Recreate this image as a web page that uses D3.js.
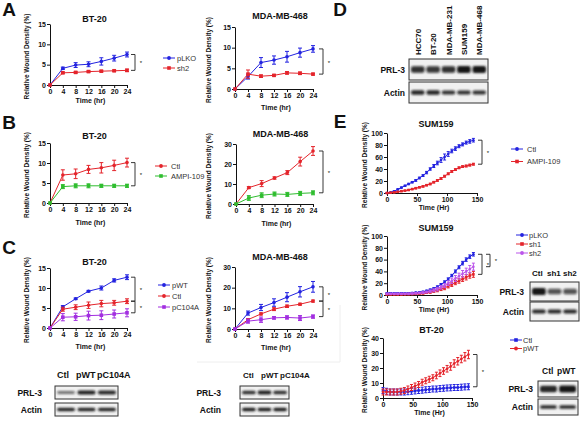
<!DOCTYPE html>
<html><head><meta charset="utf-8">
<script src="https://cdn.jsdelivr.net/npm/d3@7"></script>
<style>body{margin:0;background:#fff}svg{display:block;font-family:"Liberation Sans",Arial,sans-serif}</style>
</head><body><svg id="c" width="584" height="424"></svg>
<script>
// ---------------- DATA ----------------
const hoursABC = [0, 4, 8, 12, 16, 20, 24];
const ticksABC = [0, 4, 8, 12, 16, 20, 24];
// A BT-20
const aBT_pLKO = [0, 4.1, 4.9, 5.1, 5.8, 6.6, 7.5];
const aBT_pLKO_err = [0, 0.3, 0.6, 0.6, 0.9, 0.7, 0.6];
const aBT_sh2 = [0, 3.0, 3.1, 3.3, 3.4, 3.5, 3.6];
const aBT_sh2_err = [0, 0.2, 0.2, 0.2, 0.2, 0.2, 0.3];
// A MDA-MB-468
const aMDA_pLKO = [0, 3.0, 6.4, 7.0, 7.8, 8.8, 9.7];
const aMDA_pLKO_err = [0, 0.6, 1.2, 1.0, 1.3, 1.1, 0.8];
const aMDA_sh2 = [0, 3.6, 3.1, 3.3, 3.9, 3.8, 3.6];
const aMDA_sh2_err = [0, 1.0, 0.3, 0.2, 0.3, 0.3, 0.2];
// B BT-20
const bBT_Ctl = [0, 7.0, 7.3, 8.4, 8.8, 9.4, 10.1];
const bBT_Ctl_err = [0, 1.3, 1.2, 1.0, 1.3, 1.3, 1.1];
const bBT_AMPI = [0, 4.1, 4.3, 4.3, 4.3, 4.3, 4.3];
const bBT_AMPI_err = [0, 0.5, 0.5, 0.5, 0.4, 0.4, 0.4];
// B MDA-MB-468
const bMDA_Ctl = [0, 8.2, 10.2, 13.0, 15.7, 21.2, 26.5];
const bMDA_Ctl_err = [0, 0.5, 1.5, 0.6, 1.0, 2.2, 2.2];
const bMDA_AMPI = [0, 3.0, 4.4, 5.0, 4.8, 5.3, 5.6];
const bMDA_AMPI_err = [0, 1.2, 1.2, 1.0, 1.0, 1.0, 1.0];
// C BT-20
const cBT_pWT = [0, 5.3, 7.3, 9.2, 10.0, 11.9, 12.7];
const cBT_pWT_err = [0, 0.3, 0.2, 0.2, 0.5, 0.4, 0.6];
const cBT_Ctl = [0, 4.7, 5.2, 5.7, 6.1, 6.3, 6.7];
const cBT_Ctl_err = [0, 0.5, 0.6, 0.8, 0.8, 0.6, 0.6];
const cBT_pC104A = [0, 2.7, 2.8, 3.1, 3.2, 3.5, 3.8];
const cBT_pC104A_err = [0, 0.9, 0.9, 1.1, 1.1, 1.0, 1.0];
// C MDA-MB-468
const cMDA_pWT = [0, 7.7, 10.4, 12.8, 15.4, 18.0, 20.4];
const cMDA_pWT_err = [0, 1.0, 1.5, 1.8, 2.2, 2.5, 2.6];
const cMDA_Ctl = [0, 4.5, 7.3, 9.6, 11.0, 12.0, 13.5];
const cMDA_Ctl_err = [0, 0.5, 0.5, 0.7, 0.6, 0.5, 0.5];
const cMDA_pC104A = [0, 3.8, 4.5, 5.4, 5.6, 5.3, 6.0];
const cMDA_pC104A_err = [0, 1.0, 1.3, 0.6, 0.8, 1.2, 0.8];
// E time points (hr)
const hoursE = [0, 6, 12, 18, 24, 30, 36, 42, 48, 54, 60, 66, 72, 78, 84, 90, 96, 102, 108, 114, 120, 126, 132, 138, 144];
const ticksE = [0, 50, 100, 150];
// E top SUM159
const eTop_Ctl = [0, 1, 3, 6, 9, 12, 15, 18, 21, 25, 29, 34, 40, 45, 50, 55, 60, 65, 70, 74, 78, 81, 84, 86, 88];
const eTop_Ctl_err = [0.5, 0.5, 0.8, 1, 1, 1, 1.2, 1.2, 1.5, 1.5, 1.5, 2, 2, 2.5, 3, 4, 5, 4, 3, 3, 2.5, 2.5, 2.5, 3, 3];
const eTop_AMPI = [0, 0.5, 1, 2, 3, 4, 5, 6.5, 8, 9.5, 11, 13, 15, 18, 21, 24, 28, 32, 36, 39, 42, 44, 45, 46.5, 48];
const eTop_AMPI_err = [0.3, 0.3, 0.5, 0.5, 0.5, 0.6, 0.7, 0.8, 1, 1, 1, 1, 1.2, 1.2, 1.5, 1.5, 1.5, 1.5, 1.5, 1.5, 1.5, 1.5, 1.5, 1.5, 1.5];
// E middle SUM159
const eMid_pLKO = [3, 3, 3, 3, 3, 3, 3, 3.5, 4, 4.5, 5.5, 7, 9, 11, 14, 18, 22, 27, 33, 40, 47, 54, 60, 65, 69];
const eMid_pLKO_err = [1, 1, 1, 1, 1, 1, 1, 1, 1, 1, 1, 1.2, 1.2, 1.5, 1.5, 1.5, 2, 2, 2, 2.5, 2.5, 3, 3, 3, 3];
const eMid_sh1 = [1, 1, 1, 1, 1, 1.2, 1.4, 1.6, 2, 2.5, 3, 4, 5, 6.5, 8, 10, 12, 15, 18, 21, 24, 27, 30, 33, 35];
const eMid_sh1_err = [1, 1, 1, 1, 1, 1, 1, 1, 1.2, 1.2, 1.5, 1.5, 2, 2, 2.5, 2.5, 3, 3, 3.5, 3.5, 4, 4, 4.5, 4.5, 5];
const eMid_sh2 = [2, 2, 2, 2, 2, 2, 2.2, 2.5, 3, 3.5, 4, 5, 6.5, 8, 10, 13, 16, 20, 24, 28, 32, 36, 40, 44, 48];
const eMid_sh2_err = [1, 1, 1, 1, 1, 1, 1, 1, 1.2, 1.2, 1.5, 1.5, 2, 2.5, 3, 3, 3.5, 4, 4.5, 5, 5, 5.5, 5.5, 6, 6];
// E bottom BT-20
const eBot_Ctl = [5, 4.5, 4, 4, 4, 4, 4, 4.2, 4.5, 4.7, 5, 5.2, 5.5, 5.7, 6, 6, 6.3, 6.5, 6.7, 6.8, 7, 7, 7.2, 7.4, 7.5];
const eBot_Ctl_err = [2, 2, 2, 2, 2, 2, 2, 2, 2, 2, 2, 2, 2, 2, 2, 2, 2, 2, 2, 2, 2, 2, 2, 2, 2];
const eBot_pWT = [4, 4, 4, 4, 4, 4.5, 5, 6, 7, 8, 9, 10.5, 11.5, 12.5, 13.5, 15, 16.5, 18, 19.5, 21, 23, 24.5, 26, 27.5, 29];
const eBot_pWT_err = [2, 2, 2, 2, 2, 2, 2, 2, 2, 2, 2, 2, 2, 2, 2, 2.2, 2.2, 2.2, 2.2, 2.5, 2.5, 2.5, 2.5, 2.8, 2.8];
// Blots (band intensities 0..1)
const blotC1_lanes = ["Ctl", "pWT", "pC104A"];
const blotC1_PRL3 = [0.45, 0.95, 0.9];
const blotC1_Actin = [0.9, 0.9, 0.9];
const blotC2_lanes = ["Ctl", "pWT", "pC104A"];
const blotC2_PRL3 = [0.85, 0.95, 0.85];
const blotC2_Actin = [0.95, 0.95, 0.95];
const blotD_lanes = ["HCC70", "BT-20", "MDA-MB-231", "SUM159", "MDA-MB-468"];
const blotD_PRL3 = [0.85, 0.8, 0.85, 1.0, 1.0];
const blotD_Actin = [0.9, 0.9, 0.85, 0.85, 0.85];
const blotE2_lanes = ["Ctl", "sh1", "sh2"];
const blotE2_PRL3 = [1.0, 0.6, 0.6];
const blotE2_Actin = [0.9, 0.9, 0.9];
const blotE3_lanes = ["Ctl", "pWT"];
const blotE3_PRL3 = [0.9, 1.0];
const blotE3_Actin = [0.85, 0.85];

// ---------------- DRAWING ----------------
const BLUE = "#2323e0", RED = "#e4242b", GREEN = "#2fbd2f", PURPLE = "#a22ee0", PURPLE2 = "#bb55ea";
const svg = d3.select("#c");
const defs = svg.append("defs");
defs.append("filter").attr("id", "blur").attr("x", "-50%").attr("y", "-100%").attr("width", "200%").attr("height", "300%")
  .append("feGaussianBlur").attr("stdDeviation", 0.8);

function txt(x, y, s, o = {}) {
  const t = svg.append("text").attr("x", x).attr("y", y).text(s)
    .attr("font-size", o.size || 8).attr("font-weight", o.weight || "bold")
    .attr("fill", o.fill || "#111").attr("text-anchor", o.anchor || "middle");
  if (o.rotate) t.attr("transform", `rotate(${o.rotate},${x},${y})`);
  return t;
}

function styleAxis(g) {
  g.select(".domain").attr("stroke", "#111").attr("stroke-width", 1);
  g.selectAll(".tick line").attr("stroke", "#111");
  g.selectAll(".tick text").attr("font-size", 7).attr("font-weight", "bold").attr("fill", "#111")
    .attr("font-family", '"Liberation Sans",Arial,sans-serif');
}

function lineChart(c) {
  const x = d3.scaleLinear().domain(c.xDomain).range([c.left, c.right]);
  const y = d3.scaleLinear().domain(c.yDomain).range([c.bottom, c.top]);
  const g = svg.append("g");
  g.append("g").attr("transform", `translate(0,${c.bottom})`)
    .call(d3.axisBottom(x).tickValues(c.xTicks).tickSize(3).tickSizeOuter(0).tickPadding(1).tickFormat(d3.format("d"))).call(styleAxis);
  g.append("g").attr("transform", `translate(${c.left},0)`)
    .call(d3.axisLeft(y).tickValues(c.yTicks).tickSize(3).tickSizeOuter(0).tickPadding(1).tickFormat(d3.format("d"))).call(styleAxis);
  const line = d3.line().x(d => x(d[0])).y(d => y(d[1]));
  const r = c.r || 1.8, cap = c.cap || 2;
  c.series.forEach(s => {
    const pts = c.xs.map((t, i) => [t, s.v[i], s.e[i]]);
    const sg = g.append("g");
    sg.append("path").attr("d", line(pts)).attr("fill", "none").attr("stroke", s.color).attr("stroke-width", 1);
    pts.forEach(p => {
      if (p[2] > 0) {
        const y1 = y(p[1] + p[2]), y2 = y(p[1] - p[2]);
        sg.append("line").attr("x1", x(p[0])).attr("x2", x(p[0])).attr("y1", y1).attr("y2", y2).attr("stroke", s.color).attr("stroke-width", 1);
        [y1, y2].forEach(yy => sg.append("line").attr("x1", x(p[0]) - cap).attr("x2", x(p[0]) + cap).attr("y1", yy).attr("y2", yy).attr("stroke", s.color).attr("stroke-width", 1));
      }
      if (s.square) sg.append("rect").attr("x", x(p[0]) - r).attr("y", y(p[1]) - r).attr("width", 2 * r).attr("height", 2 * r).attr("fill", s.color);
      else sg.append("circle").attr("cx", x(p[0])).attr("cy", y(p[1])).attr("r", r).attr("fill", s.color);
    });
  });
  txt((c.left + c.right) / 2 + (c.titleDx || 6), c.titleY, c.title, { size: 9 });
  txt((c.left + c.right) / 2 + 2, c.xLabelY, c.xLabel, { size: 7 });
  txt(c.yLabelX, (c.top + c.bottom) / 2 + 2, "Relative Wound Density (%)", { size: 6.5, rotate: -90 });
  (c.brackets || []).forEach(b => {
    const last = c.xs.length - 1;
    const ya = y(c.series[b.a].v[last]), yb = y(c.series[b.b].v[last]);
    const bx = c.right + b.dx;
    svg.append("path").attr("d", `M${bx - 4},${ya}H${bx}V${yb}H${bx - 4}`).attr("fill", "none").attr("stroke", "#222").attr("stroke-width", 0.9);
    txt(bx + 6, (ya + yb) / 2 + 3, "*", { size: 6, weight: "normal" });
  });
  return { x, y };
}

function legend(items, x, y0, dy, tx) {
  items.forEach((it, i) => {
    const yy = y0 + i * dy;
    svg.append("line").attr("x1", x).attr("x2", x + 12).attr("y1", yy).attr("y2", yy).attr("stroke", it.color).attr("stroke-width", 1);
    if (it.square) svg.append("rect").attr("x", x + 4.2).attr("y", yy - 1.8).attr("width", 3.6).attr("height", 3.6).attr("fill", it.color);
    else svg.append("circle").attr("cx", x + 6).attr("cy", yy).attr("r", 1.9).attr("fill", it.color);
    txt(tx, yy + 2.6, it.label, { size: 7.5, weight: "normal", anchor: "start", fill: "#333" });
  });
}

function blotRow(x0, x1, yTop, h, vals, bandH, dark) {
  svg.append("rect").attr("x", x0).attr("y", yTop).attr("width", x1 - x0).attr("height", h)
    .attr("fill", "#f1f1f1").attr("stroke", "#333").attr("stroke-width", 1);
  const lane = d3.scaleBand().domain(d3.range(vals.length)).range([x0 + 2, x1 - 2]).paddingInner(0.12);
  vals.forEach((v, i) => {
    svg.append("rect").attr("x", lane(i)).attr("width", lane.bandwidth())
      .attr("y", yTop + h / 2 - bandH * (0.55 + 0.45 * v) / 2).attr("height", bandH * (0.55 + 0.45 * v))
      .attr("rx", 2).attr("fill", dark || "#151515").attr("fill-opacity", 0.25 + 0.75 * v).attr("filter", "url(#blur)");
  });
  return lane;
}

// Panel letters
txt(9, 16, "A", { size: 19 });
txt(9, 129, "B", { size: 19 });
txt(9, 254, "C", { size: 19 });
txt(340, 16, "D", { size: 19 });
txt(340, 128, "E", { size: 19 });

const base = { xs: hoursABC, xDomain: [0, 24], xTicks: ticksABC, xLabel: "Time (hr)" };
// A
lineChart(Object.assign({}, base, { left: 50, right: 127, top: 24, bottom: 85, yDomain: [0, 15], yTicks: [0, 5, 10, 15],
  title: "BT-20", titleY: 22, xLabelY: 103, yLabelX: 29,
  series: [{ v: aBT_pLKO, e: aBT_pLKO_err, color: BLUE }, { v: aBT_sh2, e: aBT_sh2_err, color: RED, square: true }],
  brackets: [{ a: 0, b: 1, dx: 8 }] }));
lineChart(Object.assign({}, base, { left: 235, right: 313, top: 27, bottom: 89, yDomain: [0, 15], yTicks: [0, 5, 10, 15],
  title: "MDA-MB-468", titleY: 18.5, xLabelY: 110, yLabelX: 211,
  series: [{ v: aMDA_pLKO, e: aMDA_pLKO_err, color: BLUE }, { v: aMDA_sh2, e: aMDA_sh2_err, color: RED, square: true }],
  brackets: [{ a: 0, b: 1, dx: 10 }] }));
legend([{ label: "pLKO", color: BLUE }, { label: "sh2", color: RED, square: true }], 163, 58, 10, 177);

// B
lineChart(Object.assign({}, base, { left: 50, right: 127, top: 143, bottom: 203, yDomain: [0, 15], yTicks: [0, 5, 10, 15],
  title: "BT-20", titleY: 139, xLabelY: 225, yLabelX: 29,
  series: [{ v: bBT_Ctl, e: bBT_Ctl_err, color: RED }, { v: bBT_AMPI, e: bBT_AMPI_err, color: GREEN, square: true }],
  brackets: [{ a: 0, b: 1, dx: 8 }] }));
lineChart(Object.assign({}, base, { left: 236, right: 313, top: 144, bottom: 204, yDomain: [0, 30], yTicks: [0, 10, 20, 30],
  title: "MDA-MB-468", titleY: 137, xLabelY: 226, yLabelX: 211,
  series: [{ v: bMDA_Ctl, e: bMDA_Ctl_err, color: RED }, { v: bMDA_AMPI, e: bMDA_AMPI_err, color: GREEN, square: true }],
  brackets: [{ a: 0, b: 1, dx: 10 }] }));
legend([{ label: "Ctl", color: RED }, { label: "AMPI-109", color: GREEN, square: true }], 155, 166, 10, 171);

// C
lineChart(Object.assign({}, base, { left: 50, right: 127, top: 268, bottom: 328, yDomain: [0, 15], yTicks: [0, 5, 10, 15],
  title: "BT-20", titleY: 265, xLabelY: 349, yLabelX: 29,
  series: [{ v: cBT_pWT, e: cBT_pWT_err, color: BLUE }, { v: cBT_Ctl, e: cBT_Ctl_err, color: RED }, { v: cBT_pC104A, e: cBT_pC104A_err, color: PURPLE, square: true }],
  brackets: [{ a: 0, b: 1, dx: 8 }, { a: 1, b: 2, dx: 8 }] }));
lineChart(Object.assign({}, base, { left: 235, right: 313, top: 267, bottom: 329, yDomain: [0, 30], yTicks: [0, 10, 20, 30],
  title: "MDA-MB-468", titleY: 260, xLabelY: 350, yLabelX: 211,
  series: [{ v: cMDA_pWT, e: cMDA_pWT_err, color: BLUE }, { v: cMDA_Ctl, e: cMDA_Ctl_err, color: RED }, { v: cMDA_pC104A, e: cMDA_pC104A_err, color: PURPLE, square: true }],
  brackets: [{ a: 0, b: 1, dx: 10 }, { a: 1, b: 2, dx: 10 }] }));
legend([{ label: "pWT", color: BLUE }, { label: "Ctl", color: RED }, { label: "pC104A", color: PURPLE, square: true }], 158, 285, 11, 172);

// Blot pair: header labels start at given x positions
function blotPair(x0, x1, yP, yA, h, lanesLbl, pr, ac, lblX, hdrY, hdrX, opts = {}) {
  blotRow(x0, x1, yP, h, pr, opts.bandP || 4, opts.darkP);
  blotRow(x0, x1, yA, h, ac, opts.bandA || 3.5);
  lanesLbl.forEach((l, i) => txt(hdrX[i], hdrY, l, { size: opts.hdrSize || 8.5, anchor: "start" }));
  txt(lblX, yP + h / 2 + 3, "PRL-3", { size: 8.5, anchor: "end" });
  txt(lblX, yA + h / 2 + 3, "Actin", { size: 8.5, anchor: "end" });
}
blotPair(55, 118, 386, 403, 13, blotC1_lanes, blotC1_PRL3, blotC1_Actin, 42, 378, [57, 76, 97], { hdrSize: 9 });
blotPair(240, 289, 386, 403, 13, blotC2_lanes, blotC2_PRL3, blotC2_Actin, 221, 378, [243, 261, 280], { hdrSize: 8 });

// faint frame lines
svg.append("path").attr("d", "M197,362H340V305").attr("fill", "none").attr("stroke", "#eeeeee").attr("stroke-width", 1);

// D blot
{
  const lane = blotRow(409, 488, 59, 21, blotD_PRL3, 7);
  blotRow(409, 488, 82, 21, blotD_Actin, 4.5);
  blotD_lanes.forEach((l, i) => txt(lane(i) + lane.bandwidth() / 2 + 3, 55, l, { size: 8, anchor: "start", rotate: -90 }));
  txt(405, 73, "PRL-3", { size: 8.5, anchor: "end" });
  txt(405, 96, "Actin", { size: 8.5, anchor: "end" });
}

// E charts
const baseE = { xs: hoursE, xDomain: [0, 150], xTicks: ticksE, xLabel: "Time  (Hr)", r: 1.3, cap: 1.5, titleDx: 4 };
lineChart(Object.assign({}, baseE, { left: 387, right: 477, top: 133, bottom: 193, yDomain: [0, 100], yTicks: [0, 20, 40, 60, 80, 100],
  title: "SUM159", titleY: 127, xLabelY: 210, yLabelX: 367,
  series: [{ v: eTop_Ctl, e: eTop_Ctl_err, color: BLUE }, { v: eTop_AMPI, e: eTop_AMPI_err, color: RED, square: true }],
  brackets: [{ a: 0, b: 1, dx: 5 }] }));
legend([{ label: "Ctl", color: BLUE }, { label: "AMPI-109", color: RED, square: true }], 511, 149, 12.5, 527);

lineChart(Object.assign({}, baseE, { left: 387, right: 477, top: 236, bottom: 295, yDomain: [0, 100], yTicks: [0, 20, 40, 60, 80, 100],
  title: "SUM159", titleY: 231, xLabelY: 312, yLabelX: 367,
  series: [{ v: eMid_pLKO, e: eMid_pLKO_err, color: BLUE }, { v: eMid_sh1, e: eMid_sh1_err, color: RED, square: true }, { v: eMid_sh2, e: eMid_sh2_err, color: PURPLE2 }],
  brackets: [{ a: 0, b: 1, dx: 5 }, { a: 0, b: 2, dx: 13 }] }));
legend([{ label: "pLKO", color: BLUE }, { label: "sh1", color: RED, square: true }, { label: "sh2", color: PURPLE2 }], 516, 235, 9, 529);

lineChart(Object.assign({}, baseE, { left: 383, right: 472, top: 338, bottom: 398, yDomain: [0, 40], yTicks: [0, 10, 20, 30, 40],
  title: "BT-20", titleY: 333, xLabelY: 415, yLabelX: 367,
  series: [{ v: eBot_Ctl, e: eBot_Ctl_err, color: BLUE, square: true }, { v: eBot_pWT, e: eBot_pWT_err, color: RED }],
  brackets: [{ a: 1, b: 0, dx: 5 }] }));
legend([{ label: "Ctl", color: BLUE, square: true }, { label: "pWT", color: RED }], 510, 340, 8.5, 523);

// E blots
blotPair(530, 579, 282, 302, 19, blotE2_lanes, blotE2_PRL3, blotE2_Actin, 524, 276, [532, 547, 563], { bandP: 7, bandA: 4, hdrSize: 8 });
blotPair(538, 578, 381, 399, 16, blotE3_lanes, blotE3_PRL3, blotE3_Actin, 533, 374, [542, 557], { bandP: 7, bandA: 4, hdrSize: 8.5 });
</script></body></html>
